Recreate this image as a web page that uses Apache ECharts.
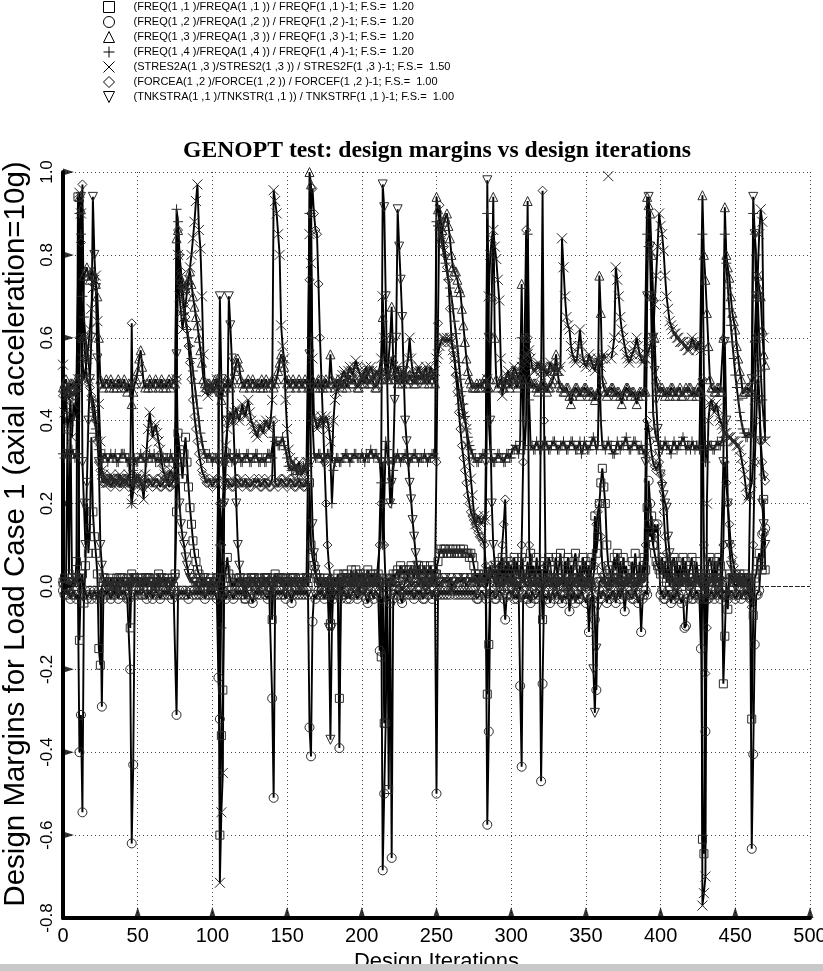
<!DOCTYPE html>
<html><head><meta charset="utf-8">
<script src="https://cdn.jsdelivr.net/npm/echarts@6/dist/echarts.min.js"></script>
<style>html,body{margin:0;padding:0;background:#fff}#c{width:823px;height:971px}</style>
</head><body><div id="c"></div>
<script>
const xTicks=[0,50,100,150,200,250,300,350,400,450,500];
const yTicks=[-0.8,-0.6,-0.4,-0.2,0.0,0.2,0.4,0.6,0.8,1.0];
const legendNames=[
 "(FREQ(1 ,1 )/FREQA(1 ,1 )) / FREQF(1 ,1 )-1; F.S.=  1.20",
 "(FREQ(1 ,2 )/FREQA(1 ,2 )) / FREQF(1 ,2 )-1; F.S.=  1.20",
 "(FREQ(1 ,3 )/FREQA(1 ,3 )) / FREQF(1 ,3 )-1; F.S.=  1.20",
 "(FREQ(1 ,4 )/FREQA(1 ,4 )) / FREQF(1 ,4 )-1; F.S.=  1.20",
 "(STRES2A(1 ,3 )/STRES2(1 ,3 )) / STRES2F(1 ,3 )-1; F.S.=  1.50",
 "(FORCEA(1 ,2 )/FORCE(1 ,2 )) / FORCEF(1 ,2 )-1; F.S.=  1.00",
 "(TNKSTRA(1 ,1 )/TNKSTR(1 ,1 )) / TNKSTRF(1 ,1 )-1; F.S.=  1.00"];

// one value per design iteration, starting at iteration 0
const freq11=[
.01,.02,.00,.38,.03,.41,.02,.01,.00,.06,
.94,-.13,.02,.03,-.04,.05,.20,.08,.14,.36,
.18,.12,.08,.03,-.15,-.19,.00,.01,.02,.00,
.01,.00,.02,.01,.00,-.01,.02,.01,-.01,.00,
.02,.00,.01,.00,.02,-.10,.03,.00,.02,.01,
.02,.00,.01,.02,.00,.01,.00,.02,.02,.00,
.01,.02,.00,.01,.03,.00,.01,.01,.02,.00,
.02,.01,.00,.02,.00,.03,.18,.37,.33,.30,
.26,.32,.36,.30,.24,.19,.15,.11,.08,.06,
.04,.03,.02,.01,.00,.00,.01,.00,.01,.02,
.00,.00,.01,.02,.00,-.60,-.36,-.25,.02,.04,
.07,.03,.02,.00,.01,.00,.02,.01,.02,.00,
.01,.02,-.03,.00,.01,.00,.02,.01,.02,.00,
.01,.02,.00,.01,.00,.02,.01,.02,.00,.01,
-.08,.02,.03,.01,.02,.01,.00,.02,.02,.01,
.00,.01,.02,.00,.02,.01,.00,.01,.02,.01,
.00,.02,.01,.02,.00,.25,.10,.07,.05,.03,
.02,.01,.02,.00,.01,.02,.00,.02,.01,-.09,
.01,.00,.02,.01,.03,-.27,.01,.02,.03,.01,
.03,.02,.01,.04,.02,.01,.04,.03,.02,.03,
.02,.03,.01,.02,.04,.01,.03,.02,.03,.01,
.02,.03,.01,-.17,.02,-.33,.00,.02,-.49,.01,
.00,.03,.02,.03,.04,.02,.05,.03,.04,.03,
.04,.02,.04,.05,.03,.02,.04,.03,.05,.04,
.03,.03,.05,.02,.04,.03,.05,.02,.04,.03,
.03,.06,.08,.09,.08,.09,.09,.08,.08,.09,
.08,.09,.08,.09,.08,.08,.09,.08,.09,.08,
.08,.08,.07,.08,.07,.05,.03,.02,.03,.01,
.01,.02,.03,.02,-.26,-.14,.02,.03,.04,.03,
.04,.01,.06,.02,.07,.00,.05,.02,.06,.03,
.05,.01,.07,.03,.06,.02,.03,.07,.04,.01,
.03,.06,.02,.08,.03,.05,.01,.07,.03,.05,
.02,-.08,.06,.03,.01,.07,.06,.02,.01,.04,
.07,.02,.05,.08,.02,.00,.06,.03,.07,.01,
.05,.02,.06,.08,.04,.01,.05,.00,.07,.03,
.06,.02,.05,.01,.07,.04,.17,.08,.12,.20,
.25,.285,.24,.20,.10,.05,.04,.01,.03,.07,
.04,.08,.02,.06,.01,.07,.03,.05,.00,.02,
.01,.06,.02,.08,.04,.01,.06,.02,.04,.07,
.04,.19,.15,.12,.17,.10,.08,.06,.05,.04,
.03,.07,.02,.06,.01,.05,.00,.03,.06,.07,
.02,.06,.01,.05,.00,.07,.03,.06,.01,.03,
.05,.07,.02,.01,.06,.03,.00,.03,-.61,-.645,
.03,.02,.06,.07,.05,.01,.06,.02,.04,.07,
.05,.03,-.235,-.12,.01,-.055,.03,.02,.02,.01,
.03,.01,.02,.03,.01,.02,.03,.01,.02,.01,
.02,-.32,-.07,.02,.03,.06,.08,.06,.04,.21,
.04];

const freq12=[
-.01,-.02,.00,-.02,-.01,-.03,-.02,-.01,-.02,-.03,
-.02,-.40,-.31,-.545,-.02,-.01,-.03,-.02,-.01,-.03,
-.02,-.01,-.02,-.03,-.01,-.02,-.29,-.03,-.01,-.02,
-.01,-.02,-.03,-.02,-.01,-.02,-.01,-.03,-.02,-.01,
-.02,-.01,-.02,-.03,-.03,-.20,-.62,-.43,-.02,-.01,
-.02,-.01,-.02,-.02,-.01,-.02,-.03,-.01,-.02,-.01,
-.03,-.02,-.01,-.01,-.02,-.03,-.02,-.01,-.02,-.01,
-.02,-.01,-.02,-.03,-.01,-.01,-.31,-.02,-.01,-.02,
-.01,-.02,-.01,-.02,-.03,-.01,-.01,-.02,-.01,-.02,
-.01,-.02,-.01,-.02,-.01,-.03,-.02,-.01,-.02,-.01,
-.02,-.01,-.02,-.03,-.22,-.32,-.02,-.01,-.02,-.03,
-.02,-.01,-.01,-.02,-.03,-.02,-.01,-.02,-.01,-.02,
-.01,-.02,-.03,-.01,-.01,-.02,-.03,-.04,-.02,-.01,
-.02,-.01,-.02,-.01,-.01,-.02,-.02,-.03,-.01,-.01,
-.27,-.51,-.02,-.01,-.02,-.01,-.02,-.01,-.02,-.03,
-.01,-.01,-.02,-.04,-.02,-.01,-.02,-.01,-.02,-.01,
-.02,-.01,-.02,-.01,-.02,-.34,-.41,-.085,-.02,-.03,
-.02,-.01,-.02,-.01,-.02,-.03,-.02,-.01,-.02,-.01,
-.02,-.03,-.02,-.01,-.02,-.39,-.03,-.02,-.01,-.02,
-.03,-.01,-.03,-.02,-.01,-.01,-.02,-.03,-.02,-.01,
-.01,-.02,-.01,-.03,-.04,-.02,-.01,-.02,-.03,-.01,
-.01,-.02,-.155,-.03,-.685,-.50,-.33,-.02,-.03,-.04,
-.655,-.03,-.02,-.01,-.02,-.01,-.03,-.04,-.02,-.01,
-.02,-.01,-.02,-.01,-.02,-.03,-.02,-.01,-.02,-.01,
-.02,-.03,-.03,-.01,-.02,-.02,-.01,-.03,-.01,-.02,
-.50,-.02,-.01,-.02,-.01,-.02,-.01,-.02,-.01,-.02,
.00,-.01,-.02,-.01,-.02,-.01,-.02,-.01,-.02,-.01,
-.02,-.01,-.02,-.01,-.02,-.01,-.02,-.03,-.03,-.02,
-.01,-.01,-.02,-.03,-.575,-.35,-.02,-.02,-.01,-.03,
-.03,-.02,-.01,-.01,-.02,-.03,-.08,-.02,-.02,-.01,
-.02,-.01,-.03,-.02,-.03,-.01,-.24,-.435,-.02,-.03,
-.01,-.03,-.02,-.04,-.01,-.02,-.03,-.03,-.02,-.01,
-.47,-.235,-.02,-.02,-.03,-.01,-.04,-.02,-.01,-.03,
-.02,-.01,-.03,-.02,-.04,-.02,-.02,-.03,-.01,-.06,
-.02,-.03,-.01,-.04,-.02,-.03,-.03,-.01,-.02,-.02,
-.04,-.02,-.11,-.03,-.03,-.02,-.08,-.25,-.02,-.01,
-.03,-.01,-.01,-.02,-.04,-.02,-.03,-.02,-.01,-.02,
-.04,-.02,-.01,-.03,-.01,-.02,-.06,-.02,-.01,-.02,
-.02,-.03,-.03,-.01,-.02,-.04,-.02,-.11,-.03,-.02,
-.01,-.02,.255,.20,.12,.10,.15,.13,.15,.05,
-.02,-.01,-.03,-.03,-.02,-.01,-.01,-.04,-.02,-.03,
-.02,-.01,-.02,-.03,-.04,-.02,-.10,-.095,-.03,-.02,
-.01,-.03,-.03,-.02,-.01,-.02,-.03,-.15,-.02,-.03,
-.35,-.03,-.03,-.02,-.01,-.02,-.03,-.01,-.02,-.01,
-.03,-.02,-.02,-.01,-.02,-.03,-.02,-.01,-.01,-.02,
-.03,-.02,-.02,-.01,-.03,-.02,-.01,-.02,-.01,-.02,
-.03,-.633,-.405,-.14,-.02,-.02,-.01,.05,.126,.13,
.14];

const freq13=[
.48,.49,.50,.48,.47,.49,.49,.48,.48,.50,
.50,.94,.91,.60,.75,.76,.77,.75,.74,.76,
.76,.75,.73,.70,.60,.50,.49,.48,.49,.50,
.49,.48,.50,.49,.48,.49,.48,.50,.49,.48,
.49,.50,.48,.47,.49,.49,.44,.47,.49,.50,
.52,.55,.57,.53,.49,.48,.49,.48,.50,.49,
.48,.49,.50,.49,.48,.49,.50,.48,.49,.48,
.49,.50,.48,.49,.50,.49,.84,.86,.75,.74,
.73,.72,.72,.73,.74,.76,.73,.70,.675,.65,
.63,.60,.57,.54,.50,.49,.48,.49,.49,.48,
.48,.49,.50,.49,.48,.47,.45,.47,.49,.48,
.50,.49,.48,.49,.50,.52,.54,.55,.53,.50,
.49,.48,.49,.49,.50,.48,.49,.50,.49,.48,
.49,.49,.48,.50,.48,.49,.50,.48,.49,.49,
.50,.48,.49,.50,.52,.54,.56,.55,.53,.50,
.49,.50,.48,.49,.50,.49,.48,.49,.50,.49,
.48,.49,.50,.49,.48,1.0,.97,.50,.49,.48,
.49,.50,.48,.49,.48,.49,.50,.48,.49,.56,
.50,.49,.48,.49,.50,.49,.49,.48,.50,.49,
.48,.50,.51,.49,.49,.50,.50,.48,.48,.49,
.50,.50,.49,.51,.51,.49,.49,.50,.50,.48,
.48,.49,.50,.52,.65,.55,.52,.50,.50,.60,
.675,.55,.50,.51,.49,.50,.51,.49,.50,.51,
.49,.50,.51,.50,.50,.49,.49,.50,.51,.50,
.50,.51,.49,.50,.51,.49,.50,.51,.50,.49,
.94,.91,.88,.84,.86,.88,.89,.90,.87,.84,
.80,.77,.76,.76,.74,.72,.71,.67,.63,.59,
.55,.52,.50,.49,.48,.48,.48,.49,.48,.49,
.48,.49,.50,.49,.48,.48,.50,.70,.94,.60,
.50,.48,.49,.50,.49,.48,.49,.50,.49,.48,
.50,.51,.50,.49,.48,.49,.50,.73,.50,.49,
.60,.93,.50,.49,.48,.49,.49,.48,.47,.48,
.48,.49,.49,.48,.47,.48,.48,.49,.50,.52,
.56,.52,.49,.48,.48,.47,.47,.48,.48,.46,
.44,.46,.47,.48,.48,.47,.46,.47,.47,.48,
.48,.47,.46,.47,.47,.46,.45,.46,.47,.75,
.66,.50,.48,.47,.46,.47,.47,.48,.48,.47,
.46,.47,.47,.46,.44,.46,.47,.48,.48,.47,
.46,.47,.47,.46,.44,.46,.47,.47,.46,.47,
.47,.94,.92,.90,.80,.70,.60,.50,.48,.47,
.47,.48,.47,.46,.47,.47,.46,.48,.48,.47,
.46,.47,.47,.48,.46,.46,.47,.48,.47,.48,
.48,.46,.47,.47,.46,.48,.47,.47,.944,.80,
.74,.66,.58,.50,.48,.48,.47,.47,.48,.48,
.47,.47,.60,.915,.80,.77,.745,.70,.66,.64,
.62,.58,.55,.52,.50,.465,.47,.47,.48,.48,
.47,.47,.50,.60,.70,.75,.72,.70,.62,.56,
.535];

const freq14=[
.32,.31,.32,.33,.32,.31,.33,.32,.31,.32,
.32,.90,.85,.70,.65,.60,.57,.55,.50,.45,
.42,.40,.38,.36,.33,.30,.31,.31,.32,.31,
.30,.31,.32,.31,.31,.32,.30,.30,.31,.32,
.32,.32,.31,.30,.31,.31,.20,.28,.31,.30,
.30,.31,.32,.31,.31,.30,.30,.31,.32,.31,
.31,.32,.30,.31,.31,.30,.32,.31,.30,.31,
.31,.30,.32,.31,.30,.31,.91,.88,.80,.72,
.69,.66,.64,.62,.60,.58,.55,.52,.49,.46,
.43,.40,.37,.35,.33,.32,.31,.31,.32,.31,
.30,.31,.31,.31,.32,.10,-.10,.20,.30,.31,
.31,.32,.32,.30,.31,.31,.32,.31,.32,.30,
.30,.31,.31,.32,.32,.30,.30,.31,.31,.32,
.32,.30,.30,.31,.31,.30,.30,.32,.32,.31,
.31,.36,.35,.35,.34,.34,.35,.36,.34,.33,
.31,.29,.29,.28,.28,.29,.28,.27,.28,.28,
.28,.29,.28,.28,.29,.90,.60,.40,.32,.31,
.31,.32,.32,.31,.30,.31,.31,.32,.32,.31,
.20,.28,.30,.31,.31,.30,.30,.31,.31,.32,
.32,.31,.30,.31,.31,.32,.32,.31,.31,.31,
.32,.31,.30,.32,.31,.31,.33,.32,.31,.32,
.32,.31,.30,.25,.10,.20,.35,.33,.30,.25,
.20,.28,.31,.31,.32,.31,.30,.31,.31,.32,
.32,.31,.30,.31,.31,.32,.32,.31,.30,.31,
.31,.31,.32,.31,.30,.31,.31,.32,.32,.31,
.88,.87,.86,.84,.82,.80,.78,.76,.74,.72,
.70,.67,.64,.61,.58,.54,.50,.47,.44,.41,
.38,.36,.34,.33,.32,.31,.31,.30,.30,.31,
.31,.32,.32,.31,.90,.40,.33,.31,.30,.30,
.31,.32,.32,.31,.31,.30,.30,.32,.32,.31,
.31,.33,.33,.34,.33,.32,.35,.60,.40,.33,
.40,.85,.45,.34,.34,.33,.33,.35,.34,.33,
.33,.34,.34,.35,.34,.33,.33,.34,.35,.35,
.34,.33,.33,.34,.34,.35,.34,.33,.33,.34,
.35,.35,.34,.33,.33,.34,.35,.32,.33,.35,
.34,.33,.33,.34,.35,.36,.35,.33,.34,.55,
.40,.34,.34,.33,.34,.35,.34,.34,.32,.32,
.33,.35,.34,.33,.34,.34,.35,.36,.34,.33,
.33,.34,.35,.35,.34,.33,.33,.34,.33,.32,
.33,.85,.82,.80,.60,.42,.38,.36,.35,.34,
.34,.33,.34,.35,.34,.34,.33,.32,.34,.35,
.34,.33,.34,.34,.35,.36,.35,.33,.34,.34,
.33,.35,.34,.33,.34,.34,.33,.33,.85,.50,
.30,.33,.35,.34,.34,.33,.33,.34,.35,.34,
.34,.35,.36,.85,.78,.72,.67,.63,.59,.55,
.51,.48,.45,.42,.40,.38,.37,.36,.36,.37,
.37,.36,.90,.85,.80,.70,.60,.52,.45,.40,
.36];

const stres2=[
.535,.42,.47,.38,.40,.45,.36,.44,.41,.48,
.50,.95,.90,.55,.50,.52,.55,.58,.62,.67,
.72,.74,.75,.64,.44,.35,.28,.27,.26,.25,
.25,.26,.27,.26,.26,.25,.25,.26,.27,.26,
.26,.25,.25,.26,.27,.25,.20,.23,.25,.26,
.27,.26,.26,.24,.21,.27,.33,.38,.42,.39,
.36,.38,.39,.37,.35,.33,.30,.28,.27,.26,
.25,.27,.28,.27,.26,.28,.50,.80,.70,.66,
.62,.65,.68,.71,.74,.77,.80,.84,.88,.93,
.97,.86,.815,.70,.56,.48,.47,.46,.48,.49,
.47,.47,.48,.50,.49,-.715,-.545,-.45,.30,.34,
.38,.40,.42,.41,.40,.42,.43,.41,.40,.42,
.44,.42,.41,.43,.45,.42,.40,.39,.38,.37,
.36,.38,.39,.38,.37,.39,.40,.39,.38,.40,
.45,.956,.93,.90,.85,.80,.63,.58,.55,.45,
.38,.33,.31,.30,.30,.29,.28,.29,.30,.28,
.27,.28,.29,.30,.30,.85,.78,.55,.41,.40,
.38,.39,.40,.41,.39,.40,.41,.40,.38,.35,
.30,.40,.45,.47,.48,.49,.50,.51,.52,.51,
.50,.52,.53,.52,.51,.53,.545,.53,.52,.51,
.50,.51,.52,.53,.51,.52,.53,.52,.50,.51,
.52,.51,.51,.55,.70,.60,.52,.51,.50,.52,
.55,.53,.51,.52,.53,.51,.50,.52,.52,.51,
.51,.55,.60,.55,.52,.51,.50,.52,.53,.52,
.51,.50,.52,.53,.50,.51,.53,.52,.51,.52,
.55,.56,.58,.59,.60,.60,.59,.60,.59,.60,
.59,.57,.55,.52,.50,.47,.45,.43,.41,.40,
.38,.34,.30,.26,.22,.18,.15,.16,.17,.16,
.15,.16,.17,.16,.50,.70,.80,.84,.86,.82,
.79,.74,.69,.55,.46,.48,.50,.51,.52,.50,
.49,.51,.53,.52,.51,.50,.52,.53,.54,.55,
.56,.56,.57,.55,.53,.52,.52,.53,.54,.53,
.52,.53,.53,.52,.51,.52,.54,.53,.52,.53,
.53,.52,.52,.53,.84,.77,.70,.65,.63,.62,
.58,.56,.55,.54,.55,.58,.62,.58,.55,.54,
.53,.54,.56,.55,.54,.53,.52,.54,.55,.54,
.53,.55,.56,.55,'-',.99,'-',.55,.57,.60,
.77,.74,.70,.65,.62,.60,.58,.56,.55,.54,
.55,.56,.57,.58,.60,.58,.56,.55,.54,.55,
.55,.56,.57,.58,.59,.60,.68,.75,.82,.90,
.87,.85,.81,.75,.70,.67,.64,.63,.62,.61,
.61,.60,.60,.59,.59,.59,.58,.58,.57,.57,
.58,.60,.59,.58,.57,.59,.58,.57,-.77,-.74,
-.70,.20,.40,.44,.45,.43,.42,.44,.43,.41,
.40,.39,.38,.37,.37,.36,.36,.36,.35,.35,
.35,.34,.34,.33,.31,.29,.27,.24,.21,.22,
.22,.25,.30,.45,.60,.75,.85,.91,.88,.60,
.35];

const force12=[
.46,.47,.48,.46,.45,.47,.47,.46,.46,.48,
.48,.60,.83,.97,.60,.55,.50,.49,.48,.46,
.45,.43,.40,.35,.30,.28,.26,.25,.25,.26,
.26,.25,.24,.25,.25,.26,.26,.25,.24,.25,
.25,.26,.26,.25,.24,.25,.635,.30,.26,.25,
.25,.26,.25,.24,.24,.25,.25,.26,.26,.25,
.24,.25,.25,.26,.26,.24,.24,.25,.25,.26,
.26,.24,.24,.25,.25,.26,.50,.86,.80,.76,
.72,.68,.65,.62,.58,.54,.50,.45,.41,.38,
.35,.32,.30,.28,.27,.26,.25,.25,.26,.25,
.24,.25,.25,.26,.26,.20,.10,.20,.24,.25,
.26,.25,.25,.24,.24,.25,.26,.26,.25,.25,
.24,.25,.26,.25,.25,.24,.24,.25,.26,.25,
.25,.26,.24,.24,.25,.26,.25,.25,.24,.24,
.26,.40,.25,.25,.24,.25,.26,.26,.25,.25,
.24,.25,.26,.26,.25,.24,.24,.25,.26,.25,
.25,.24,.24,.25,.26,.74,.90,.96,.90,.86,
.85,.73,.60,.50,.40,.30,.20,.10,.05,.02,
.00,.01,.01,.00,.01,-.01,.00,-.01,.01,.02,
.02,.00,.01,.00,.01,.01,.01,.00,-.01,-.01,
.01,.02,.02,.00,.01,.00,.01,.01,.00,.01,
.02,.02,.10,.20,.30,.10,.00,.01,.02,.02,
.01,.00,.00,.01,.01,.01,.00,-.01,-.01,.01,
.02,.02,.01,.00,.00,.01,.01,.01,.00,.01,
.02,.01,.00,.00,.01,.01,.01,.00,.01,.02,
.30,.635,.92,.88,.85,.82,.80,.77,.74,.67,
.60,.57,.55,.51,.47,.42,.38,.34,.31,.28,
.25,.22,.20,.18,.17,.16,.15,.14,.13,.12,
.12,.11,.10,.05,.00,.03,.05,.03,.02,.01,
.00,.01,.01,.05,.10,.15,.21,.05,.02,.01,
.00,.01,.01,.00,.01,.00,-.01,.10,.30,.60,
.86,.60,.10,.02,.01,.00,.00,.01,.01,.00,
.50,.955,.40,.05,.01,.01,.00,.01,.00,.01,
.02,.01,.00,.00,.01,.01,.01,.00,-.01,-.01,
-.01,.01,.02,.02,.01,.00,.00,.01,.01,.00,
.01,.02,.02,.01,.00,.00,.05,.15,.18,.20,
.12,.05,.03,.01,.01,.00,.00,.01,.01,.02,
.02,.01,.01,.00,.00,.01,.00,.01,.02,.02,
.01,.01,.00,.00,.01,.00,.01,.02,.02,.01,
.10,.40,.38,.35,.32,.30,.29,.28,.29,.30,
.27,.25,.18,.12,.08,.05,.03,.02,.02,.01,
.00,.00,.01,.01,.01,.02,.02,.02,.01,.00,
.00,.01,.01,.01,.02,.02,.02,.01,.50,.10,
-.21,-.10,.00,.01,.01,.02,.02,.01,.01,.02,
.02,.01,.10,.30,.25,.20,.15,.10,.07,.05,
.03,.02,.02,.01,.01,.01,.00,.00,.00,-.02,
-.03,-.05,.10,.30,.40,.50,.45,.35,.30,.27,
.255];

const tnkstr=[
.00,.01,.00,.01,.01,.00,.00,.01,.02,.02,
.01,.50,.94,.30,.20,.10,.25,.40,.50,.60,
.94,.80,.72,.55,.30,.10,.05,.02,.01,.00,
.00,.01,.01,.00,.00,.00,.01,.01,.02,.02,
.01,.01,.01,.00,.00,.00,.01,.02,.02,.01,
.01,.01,.00,.00,.01,.02,.02,.02,.01,.01,
.01,.00,.00,.00,.01,.02,.02,.01,.01,.01,
.00,.00,.00,.01,.01,.02,.56,.30,.20,.15,
.12,.10,.07,.05,.03,.02,.02,.01,.01,.01,
.00,.00,.00,.01,.02,.02,.01,.01,.01,.00,
.00,.00,.01,.02,.30,.70,.50,.30,.20,.30,
.40,.70,.63,.55,.40,.30,.20,.10,.05,.02,
.01,.00,.00,.00,.01,.01,.02,.02,.02,.01,
.00,.00,.00,.01,.01,.02,.02,.02,.01,.00,
.00,.00,.01,.01,.02,.02,.02,.01,.01,.00,
.00,.01,.01,.02,.02,.02,.01,.01,.00,.00,
.00,.01,.01,.02,.02,.56,.30,.15,.08,.04,
.02,.01,.00,.00,.01,.01,.01,.00,-.10,-.37,
-.10,.00,.01,.01,.00,.00,.01,.01,.02,.02,
.01,.01,.01,.00,.00,.01,.01,.02,.02,.01,
.01,.01,.00,.00,.01,.01,.02,.02,.01,.01,
.01,.00,.00,.30,.97,.915,.70,.50,.30,.20,
.25,.30,.45,.60,.91,.82,.74,.65,.52,.40,
.35,.30,.25,.21,.16,.12,.08,.05,.03,.02,
.02,.01,.00,.00,.01,.01,.02,.02,.01,.02,
.01,.00,.00,.01,.01,.02,.02,.01,.01,.02,
.00,.00,.01,.01,.02,.02,.01,.01,.02,.02,
.00,.01,.01,.02,.01,.01,.02,.02,.00,.01,
.01,.01,.02,.30,.98,.60,.40,.20,.10,.05,
.03,.02,.01,.00,.00,.01,.01,.02,.02,.01,
.02,.02,.00,.00,.01,.01,.01,.02,.02,.01,
.01,.00,.00,.01,.01,.01,.02,.02,.00,.01,
.01,.00,.00,.01,.01,.02,.02,.02,.01,.00,
.00,.01,.01,.02,.02,.01,.02,.02,.01,.00,
.00,.01,.01,.02,.02,.02,.01,.01,.00,.00,
.01,.01,.00,.00,.00,-.20,-.305,-.15,-.05,.01,
.01,.02,.02,.01,.01,.00,.00,.01,.01,.02,
.02,.02,.01,.00,.00,.01,.01,.02,.01,.02,
.02,.01,.01,.00,.00,.01,.01,.02,.02,.02,
.30,.70,.94,.82,.70,.60,.52,.45,.38,.32,
.27,.24,.22,.20,.19,.12,.08,.05,.02,.01,
.00,.00,.01,.01,.01,.02,.02,.01,.01,.02,
.00,.00,.01,.01,.02,.02,.02,.01,.00,.00,
.00,.01,.01,.02,.02,.02,.01,.00,.00,.00,
.01,.01,.30,.59,.40,.20,.10,.05,.02,.02,
.00,.00,.01,.01,.01,.02,.02,.02,.01,.00,
.00,.50,.94,.85,.70,.55,.45,.35,.20,.15,
.10];

const seriesData=[freq11,freq12,freq13,freq14,stres2,force12,tnkstr];
const symbols=['rect','circle','triangle','path://M5,0L5,10M0,5L10,5','path://M0,0L10,10M10,0L0,10','diamond','path://M0,0L10,0L5,10Z'];
const symSizes=[8,9,9,10,10,9,9];

const chart=echarts.init(document.getElementById('c'),null,{renderer:'canvas'});
const series=seriesData.map((d,i)=>({
  type:'line',name:legendNames[i],data:d.map((v,k)=>[k,v]),symbol:symbols[i],symbolSize:symSizes[i],
  showAllSymbol:true,connectNulls:false,symbolKeepAspect:true,clip:false,
  lineStyle:{color:'#000',width:1.9},
  itemStyle:{color:'rgba(0,0,0,0)',borderColor:'#2a2a2a',borderWidth:1},
  emphasis:{disabled:true},z:3
}));
series[0].markLine={silent:true,symbol:'none',label:{show:false},animation:false,
  lineStyle:{color:'#222',type:[4,2],width:1},data:[{yAxis:0}]};
series.push({type:'scatter',silent:true,clip:false,z:10,
  data:xTicks.slice(1).map(v=>[v,-0.8]),symbol:'triangle',symbolSize:[7,11],symbolOffset:[0,-5.5],
  itemStyle:{color:'#000'}});
series.push({type:'scatter',silent:true,clip:false,z:10,
  data:yTicks.slice(1).map(v=>[0,v]),symbol:'path://M0,0L10,5L0,10Z',symbolSize:[11,7],symbolOffset:[5.5,0],
  itemStyle:{color:'#000'}});

const fmtY=v=>{ if(Math.abs(v)<1e-9) return '0.0'; return v.toFixed(1); };

chart.setOption({
  animation:false,
  backgroundColor:'#fff',
  title:{text:'GENOPT test: design margins vs design iterations',left:432,textAlign:'center',top:134,
    textStyle:{fontFamily:'Liberation Serif',fontWeight:'bold',fontSize:23.7,color:'#000'}},
  legend:{orient:'vertical',left:103,top:0,padding:[1,0,0,0],itemWidth:11,itemHeight:11,itemGap:3,selectedMode:false,
    textStyle:{fontFamily:'Liberation Sans, Arial',fontSize:11,lineHeight:12,color:'#000',padding:[0,0,0,14]},
    data:legendNames.map((n,i)=>({name:n,icon:symbols[i],
      itemStyle:{color:'rgba(0,0,0,0)',borderColor:'#000',borderWidth:1}}))},
  grid:{left:63,right:13,top:172,bottom:53,containLabel:false,outerBoundsMode:'none'},
  xAxis:{type:'value',min:0,max:500,interval:50,
    axisLine:{onZero:false,lineStyle:{color:'#000',width:4}},axisTick:{show:false},
    axisLabel:{margin:8,fontFamily:'Liberation Sans Narrow, Liberation Sans',fontSize:20,color:'#000'},
    splitLine:{show:true,lineStyle:{type:[1,3],color:'#444',width:1}},
    name:'Design Iterations',nameLocation:'middle',nameGap:27,
    nameTextStyle:{fontFamily:'Liberation Sans, Arial',fontSize:22,color:'#000'}},
  yAxis:{type:'value',min:-0.8,max:1.0,interval:0.2,
    axisLine:{onZero:false,lineStyle:{color:'#000',width:4}},axisTick:{show:false},
    axisLabel:{rotate:90,margin:7,fontFamily:'Liberation Sans, Arial',fontSize:17,color:'#000',formatter:fmtY},
    splitLine:{show:true,lineStyle:{type:[1,3],color:'#444',width:1}},
    name:'Design Margins for Load Case 1 (axial acceleration=10g)',nameLocation:'middle',nameGap:28,
    nameTextStyle:{fontFamily:'Liberation Sans, Arial',fontSize:29.5,color:'#000',padding:[0,0,0,22]}},
  graphic:[{type:'rect',left:0,top:964,shape:{width:823,height:7},style:{fill:'#c8c8c8'},z:100}],
  series:series
});
</script></body></html>
